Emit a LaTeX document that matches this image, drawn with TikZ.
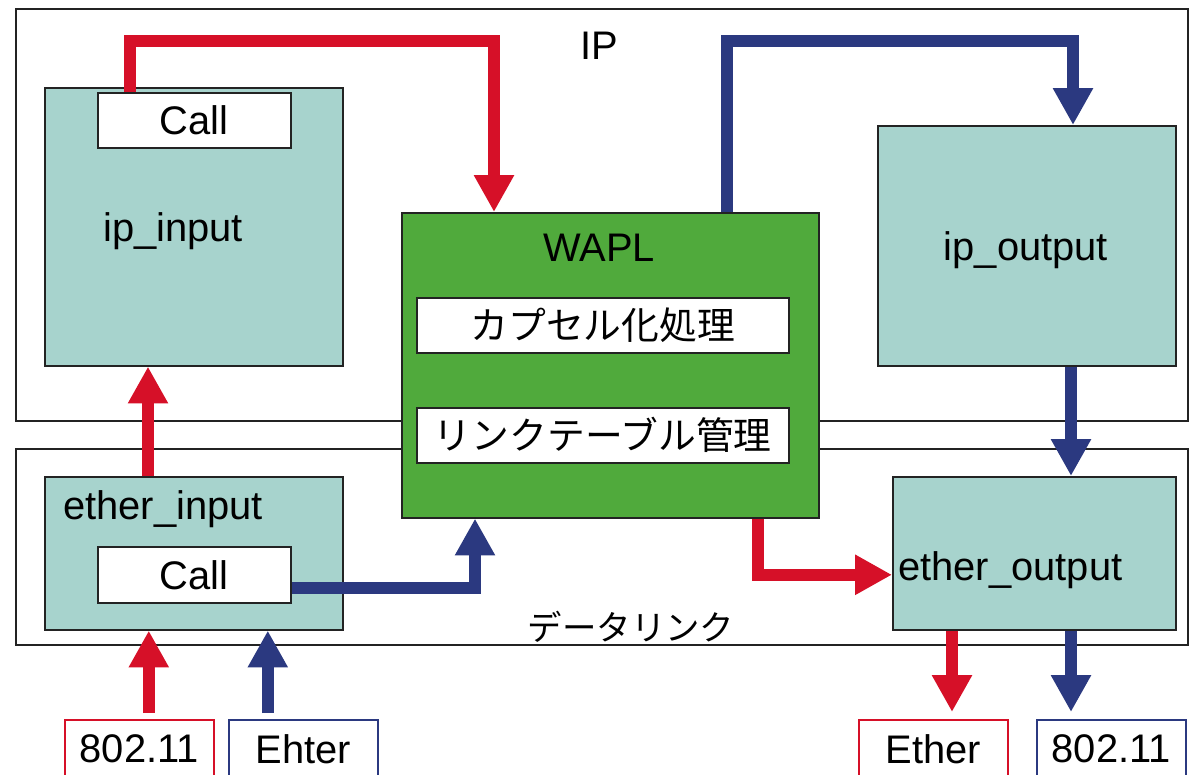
\documentclass[tikz,border=0pt]{standalone}
\usepackage{fontspec}
\setmainfont{Liberation Sans}
\newfontfamily\jpfont{Noto Sans CJK JP}
\usetikzlibrary{arrows.meta,calc}
\definecolor{tealf}{RGB}{167,211,205}
\definecolor{greenf}{RGB}{80,170,60}
\definecolor{redc}{RGB}{214,16,40}
\definecolor{bluec}{RGB}{43,57,128}
\definecolor{edge}{RGB}{35,35,35}
\newcommand\pbox[6]{\node[#1, anchor=north west, inner sep=0pt, minimum width=#4*0.02cm, minimum height=#5*0.02cm] (#2) at (#3) {#6};}
\begin{document}
\begin{tikzpicture}[x=0.02cm, y=-0.02cm,
  font=\fontsize{22.7pt}{27pt}\selectfont,
  jp/.style={font=\jpfont\fontsize{21.5pt}{26pt}\selectfont},
  frame/.style={draw=edge, line width=0.9pt},
  tealbox/.style={draw=edge, line width=0.9pt, fill=tealf},
  wbox/.style={draw=edge, line width=0.9pt, fill=white},
  greenbox/.style={draw=edge, line width=0.9pt, fill=greenf},
  redbox/.style={draw=redc, line width=0.9pt, fill=white},
  bluebox/.style={draw=bluec, line width=0.9pt, fill=white},
  flow/.style={line width=7pt, line join=miter, -{Triangle[width=21.5pt, length=21pt]}},
  rflow/.style={flow, draw=redc},
  bflow/.style={flow, draw=bluec}]
\clip (0,0) rectangle (1189,774);
\fill[white] (0,0) rectangle (1189,774);
% layer frames
\pbox{frame}{iplayer}{15,8}{1172}{412}{}
\pbox{frame}{dllayer}{15,448}{1172}{196}{}
\node[anchor=base] (iplbl) at (599,59) {IP};
\node[font=\jpfont\fontsize{19.6pt}{24pt}\selectfont, anchor=center] (dllbl) at (631,627) {データリンク};
% ip boxes
\pbox{tealbox}{ipin}{44,87}{298}{278}{}
\pbox{wbox}{callA}{97,92}{193}{55}{Call}
\node[anchor=base] (ipinlbl) at (173,241) {ip\_input};
\pbox{tealbox}{ipout}{877,125}{298}{240}{}
\node[anchor=base] (ipoutlbl) at (1026,260) {ip\_output};
% WAPL
\pbox{greenbox}{wapl}{401,212}{417}{305}{}
\node[anchor=base] (wapllbl) at (599,261) {WAPL};
\pbox{wbox,jp}{encap}{416,297}{372}{55}{カプセル化処理}
\pbox{wbox,jp}{ltab}{416,407}{372}{55}{リンクテーブル管理}
% datalink boxes
\pbox{tealbox}{ethin}{44,476}{298}{153}{}
\node[anchor=base west, inner sep=0pt] (ethinlbl) at (63,519) {ether\_input};
\pbox{wbox}{callB}{97,546}{193}{56}{Call}
\pbox{tealbox}{ethout}{892,476}{283}{153}{}
\node[anchor=base west, inner sep=0pt] (ethoutlbl) at (898,580) {ether\_output};
% devices
\pbox{redbox}{inw}{64,719}{149}{58}{802.11}
\pbox{bluebox}{ineth}{228,719}{149}{58}{Ehter}
\pbox{redbox}{outeth}{858,719}{149}{58}{Ether}
\pbox{bluebox}{outw}{1036,719}{149}{58}{802.11}
% connector start points
\coordinate (sA) at ([xshift=33*0.02cm]callA.north west);
\coordinate (sW1) at ([xshift=326*0.02cm]wapl.north west);
\coordinate (sIo) at ([xshift=194*0.02cm]ipout.south west);
\coordinate (sW2) at ([xshift=357*0.02cm]wapl.south west);
\coordinate (sEi) at ([xshift=104*0.02cm]ethin.north west);
\coordinate (sB) at ([yshift=-13*0.02cm]callB.east);
\coordinate (s1) at ([xshift=9.5*0.02cm, yshift=6*0.02cm]inw.north);
\coordinate (s2) at ([xshift=-35.5*0.02cm, yshift=6*0.02cm]ineth.north);
\coordinate (s3) at ([xshift=60*0.02cm]ethout.south west);
\coordinate (s4) at ([xshift=179*0.02cm]ethout.south west);
% connectors
\draw[rflow] (sA) -- ++(0,-51) -| ([xshift=93*0.02cm]wapl.north west);
\draw[bflow] (sW1) -- ++(0,-171) -| ([xshift=196*0.02cm]ipout.north west);
\draw[bflow] (sIo) -- (sIo |- ethout.north);
\draw[rflow] (sW2) |- ([yshift=-21.5*0.02cm]ethout.west);
\draw[rflow] (sEi) -- (sEi |- ipin.south);
\draw[bflow] (sB) -| ([xshift=74*0.02cm]wapl.south west);
\draw[rflow] (s1) -- (s1 |- ethin.south);
\draw[bflow] (s2) -- (s2 |- ethin.south);
\draw[rflow] (s3) -- ([yshift=7*0.02cm]s3 |- outeth.north);
\draw[bflow] (s4) -- ([yshift=7*0.02cm]s4 |- outw.north);
\end{tikzpicture}
\end{document}
